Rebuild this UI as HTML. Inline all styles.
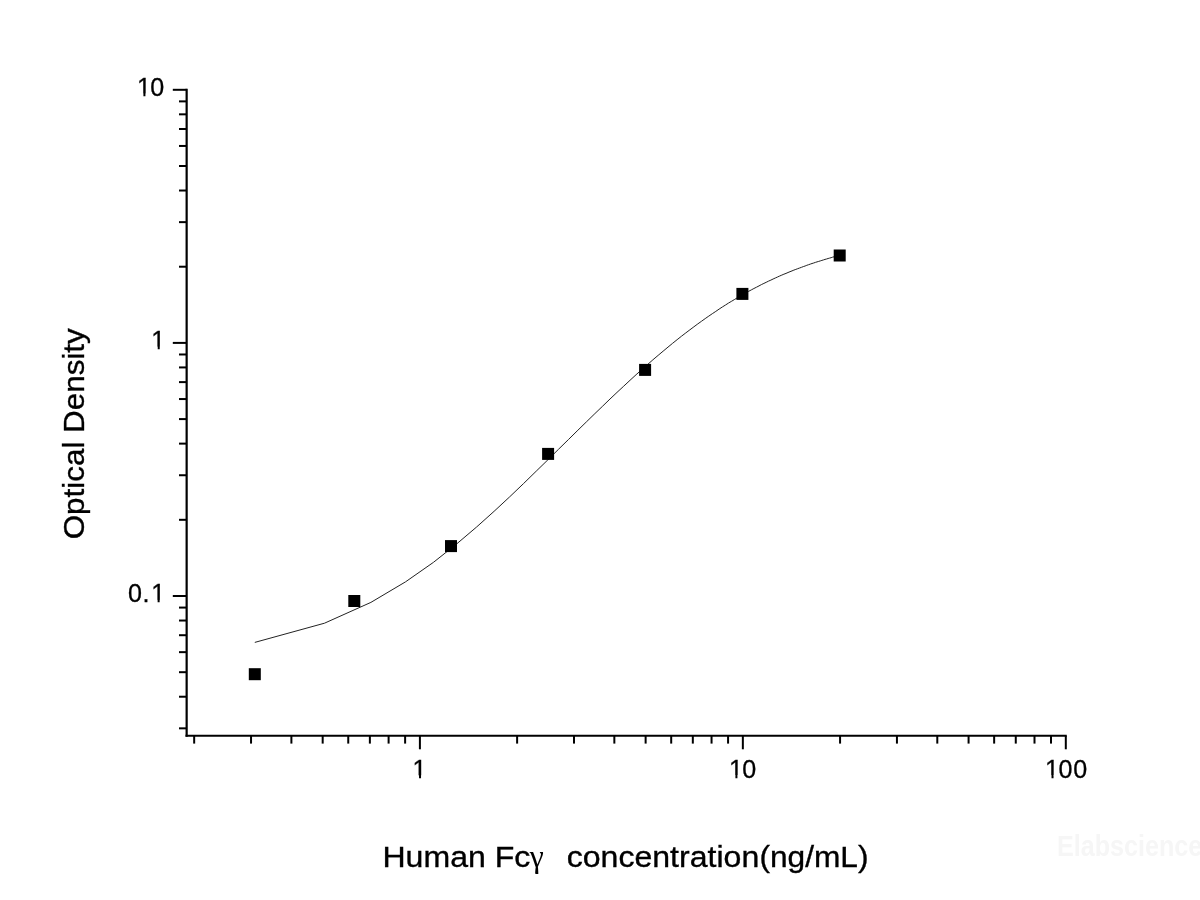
<!DOCTYPE html>
<html lang="en">
<head>
<meta charset="utf-8">
<title>Human Fc&gamma; standard curve</title>
<style>
html,body{margin:0;padding:0;background:#fff;}
body{width:1200px;height:900px;overflow:hidden;position:relative;font-family:"Liberation Sans",sans-serif;}
svg{position:absolute;left:0;top:0;display:block;}
.tick{font-family:"Liberation Sans",sans-serif;font-size:25.1px;fill:#000;stroke:#000;stroke-width:0.3px;}
.title{font-family:"Liberation Sans",sans-serif;font-size:30.4px;fill:#000;stroke:#000;stroke-width:0.35px;}
.gamma{font-family:"Liberation Serif","DejaVu Serif",serif;font-size:31.8px;fill:#000;stroke:none;}
.wm{font-family:"Liberation Sans",sans-serif;font-weight:bold;font-size:29.6px;fill:#f6f6f6;}
</style>
</head>
<body>
<svg width="1200" height="900" viewBox="0 0 1200 900">
<rect x="0" y="0" width="1200" height="900" fill="#ffffff"/>

<g stroke="#000" stroke-width="2.2" fill="none" stroke-linecap="butt">
<line x1="186.65" y1="88.80" x2="186.65" y2="736.85"/>
<line x1="185.55" y1="735.75" x2="1066.75" y2="735.75"/>
</g>
<g stroke="#000" stroke-width="2.0" fill="none">
<line x1="172.8" y1="89.80" x2="186.65" y2="89.80"/>
<line x1="172.8" y1="342.90" x2="186.65" y2="342.90"/>
<line x1="172.8" y1="596.00" x2="186.65" y2="596.00"/>
<line x1="179" y1="728.34" x2="186.65" y2="728.34"/>
<line x1="179" y1="696.72" x2="186.65" y2="696.72"/>
<line x1="179" y1="672.19" x2="186.65" y2="672.19"/>
<line x1="179" y1="652.15" x2="186.65" y2="652.15"/>
<line x1="179" y1="635.21" x2="186.65" y2="635.21"/>
<line x1="179" y1="620.53" x2="186.65" y2="620.53"/>
<line x1="179" y1="607.58" x2="186.65" y2="607.58"/>
<line x1="179" y1="519.81" x2="186.65" y2="519.81"/>
<line x1="179" y1="475.24" x2="186.65" y2="475.24"/>
<line x1="179" y1="443.62" x2="186.65" y2="443.62"/>
<line x1="179" y1="419.09" x2="186.65" y2="419.09"/>
<line x1="179" y1="399.05" x2="186.65" y2="399.05"/>
<line x1="179" y1="382.11" x2="186.65" y2="382.11"/>
<line x1="179" y1="367.43" x2="186.65" y2="367.43"/>
<line x1="179" y1="354.48" x2="186.65" y2="354.48"/>
<line x1="179" y1="266.71" x2="186.65" y2="266.71"/>
<line x1="179" y1="222.14" x2="186.65" y2="222.14"/>
<line x1="179" y1="190.52" x2="186.65" y2="190.52"/>
<line x1="179" y1="165.99" x2="186.65" y2="165.99"/>
<line x1="179" y1="145.95" x2="186.65" y2="145.95"/>
<line x1="179" y1="129.01" x2="186.65" y2="129.01"/>
<line x1="179" y1="114.33" x2="186.65" y2="114.33"/>
<line x1="179" y1="101.38" x2="186.65" y2="101.38"/>
<line x1="419.90" y1="735.75" x2="419.90" y2="749.3"/>
<line x1="742.85" y1="735.75" x2="742.85" y2="749.3"/>
<line x1="1065.80" y1="735.75" x2="1065.80" y2="749.3"/>
<line x1="194.17" y1="735.75" x2="194.17" y2="743.6"/>
<line x1="251.04" y1="735.75" x2="251.04" y2="743.6"/>
<line x1="291.39" y1="735.75" x2="291.39" y2="743.6"/>
<line x1="322.68" y1="735.75" x2="322.68" y2="743.6"/>
<line x1="348.25" y1="735.75" x2="348.25" y2="743.6"/>
<line x1="369.87" y1="735.75" x2="369.87" y2="743.6"/>
<line x1="388.60" y1="735.75" x2="388.60" y2="743.6"/>
<line x1="405.12" y1="735.75" x2="405.12" y2="743.6"/>
<line x1="517.12" y1="735.75" x2="517.12" y2="743.6"/>
<line x1="573.99" y1="735.75" x2="573.99" y2="743.6"/>
<line x1="614.34" y1="735.75" x2="614.34" y2="743.6"/>
<line x1="645.63" y1="735.75" x2="645.63" y2="743.6"/>
<line x1="671.20" y1="735.75" x2="671.20" y2="743.6"/>
<line x1="692.82" y1="735.75" x2="692.82" y2="743.6"/>
<line x1="711.55" y1="735.75" x2="711.55" y2="743.6"/>
<line x1="728.07" y1="735.75" x2="728.07" y2="743.6"/>
<line x1="840.07" y1="735.75" x2="840.07" y2="743.6"/>
<line x1="896.94" y1="735.75" x2="896.94" y2="743.6"/>
<line x1="937.29" y1="735.75" x2="937.29" y2="743.6"/>
<line x1="968.58" y1="735.75" x2="968.58" y2="743.6"/>
<line x1="994.15" y1="735.75" x2="994.15" y2="743.6"/>
<line x1="1015.77" y1="735.75" x2="1015.77" y2="743.6"/>
<line x1="1034.50" y1="735.75" x2="1034.50" y2="743.6"/>
<line x1="1051.02" y1="735.75" x2="1051.02" y2="743.6"/>
</g>
<polyline points="254.8,642.4 324.5,623.2 370.9,602.4 405.6,581.8 433.5,562.3 456.7,543.9 476.6,527.0 494.1,511.3 509.6,496.9 523.5,483.6 536.2,471.2 547.9,459.8 558.6,449.2 568.6,439.4 577.9,430.2 586.7,421.6 594.9,413.6 602.7,406.1 610.0,399.0 617.0,392.4 623.7,386.2 630.0,380.3 636.1,374.7 642.0,369.5 647.6,364.5 652.9,359.8 658.1,355.4 663.1,351.2 668.0,347.1 672.6,343.3 677.1,339.7 681.5,336.2 685.8,332.9 689.9,329.8 693.9,326.8 697.8,323.9 701.6,321.2 705.2,318.6 708.8,316.1 712.3,313.7 715.8,311.4 719.1,309.1 722.3,307.0 725.5,305.0 728.6,303.0 731.7,301.2 734.7,299.4 737.6,297.6 740.4,296.0 743.3,294.4 746.0,292.8 748.7,291.3 751.3,289.9 753.9,288.5 756.5,287.2 759.0,285.9 761.4,284.6 763.9,283.4 766.2,282.3 768.6,281.1 770.9,280.1 773.1,279.0 775.3,278.0 777.5,277.0 779.7,276.0 781.8,275.1 783.9,274.2 786.0,273.4 788.0,272.5 790.0,271.7 792.0,270.9 793.9,270.1 795.8,269.4 797.7,268.7 799.6,268.0 801.5,267.3 803.3,266.6 805.1,266.0 806.8,265.3 808.6,264.7 810.3,264.1 812.0,263.5 813.7,263.0 815.4,262.4 817.0,261.9 818.7,261.4 820.3,260.9 821.9,260.4 823.5,259.9 825.0,259.4 826.5,259.0 828.1,258.5 829.6,258.1 831.1,257.7 832.5,257.2 834.0,256.8 835.5,256.4 836.9,256.0 838.3,255.7 839.7,255.3" fill="none" stroke="#222" stroke-width="1" stroke-linejoin="round"/>
<g fill="#000">
<rect x="248.8" y="668.2" width="12" height="12"/>
<rect x="348.3" y="595.0" width="12" height="12"/>
<rect x="445.0" y="540.1" width="12" height="12"/>
<rect x="542.1" y="447.9" width="12" height="12"/>
<rect x="639.1" y="363.9" width="12" height="12"/>
<rect x="736.4" y="287.9" width="12" height="12"/>
<rect x="833.7" y="249.5" width="12" height="12"/>
</g>
<g transform="translate(0,96.0)">
<text class="tick" x="137.00 150.15" y="0">10</text>
<rect x="137.75" y="-2.37" width="5.66" height="5.42" fill="#fff"/>
<rect x="145.43" y="-2.37" width="5.52" height="5.42" fill="#fff"/>
</g>
<g transform="translate(0,349.1)">
<text class="tick" x="151.30" y="0">1</text>
<rect x="152.05" y="-2.37" width="5.66" height="5.42" fill="#fff"/>
<rect x="159.73" y="-2.37" width="5.52" height="5.42" fill="#fff"/>
</g>
<g transform="translate(0,602.3)">
<text class="tick" x="128.05 142.50 151.20" y="0">0.1</text>
<rect x="151.95" y="-2.37" width="5.66" height="5.42" fill="#fff"/>
<rect x="159.63" y="-2.37" width="5.52" height="5.42" fill="#fff"/>
</g>
<g transform="translate(0,777.7)">
<text class="tick" x="412.60" y="0">1</text>
<rect x="413.35" y="-2.37" width="5.66" height="5.42" fill="#fff"/>
<rect x="421.03" y="-2.37" width="5.52" height="5.42" fill="#fff"/>
</g>
<g transform="translate(0,777.7)">
<text class="tick" x="729.00 742.15" y="0">10</text>
<rect x="729.75" y="-2.37" width="5.66" height="5.42" fill="#fff"/>
<rect x="737.43" y="-2.37" width="5.52" height="5.42" fill="#fff"/>
</g>
<g transform="translate(0,777.7)">
<text class="tick" x="1045.10 1058.45 1073.15" y="0">100</text>
<rect x="1045.85" y="-2.37" width="5.66" height="5.42" fill="#fff"/>
<rect x="1053.53" y="-2.37" width="5.52" height="5.42" fill="#fff"/>
</g>
<text class="title" y="866.7" xml:space="preserve"><tspan x="382.47" textLength="147.87" lengthAdjust="spacingAndGlyphs">Human Fc</tspan><tspan class="gamma" x="529.7">γ   </tspan><tspan x="566.75" textLength="192.48" lengthAdjust="spacingAndGlyphs">concentration</tspan><tspan x="759.4" textLength="109.1" lengthAdjust="spacingAndGlyphs">(ng/mL)</tspan></text>
<text class="title" transform="translate(83.5,539.3) rotate(-90) scale(1.033,1)">Optical Density</text>
<text class="wm" transform="translate(1056.9,855.6) scale(0.85,1)">Elabscience</text>
</svg>
</body>
</html>
